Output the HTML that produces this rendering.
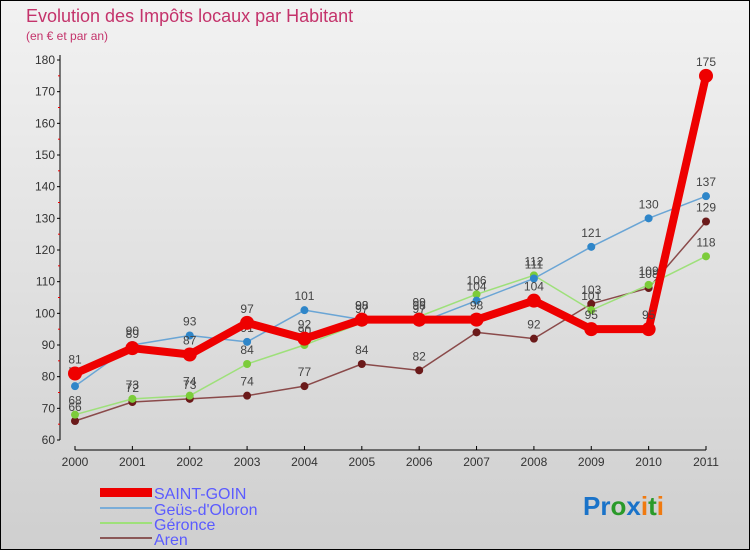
<!DOCTYPE html>
<html><head><meta charset="utf-8"><style>
html,body{margin:0;padding:0}
body{width:750px;height:550px;overflow:hidden;font-family:"Liberation Sans",sans-serif}
</style></head><body>
<svg id="chart" width="750" height="550" xmlns="http://www.w3.org/2000/svg">
<defs><linearGradient id="bg" x1="0" y1="0" x2="0" y2="1"><stop offset="0" stop-color="#f2f2f2"/><stop offset="1" stop-color="#cfcfcf"/></linearGradient></defs>
<rect x="0.5" y="0.5" width="749" height="549" fill="url(#bg)" stroke="#000"/>
<text x="26" y="22" font-size="18" fill="#c4336b">Evolution des Impôts locaux par Habitant</text>
<text x="26" y="40" font-size="12" fill="#c4336b">(en € et par an)</text>
<line x1="60" y1="55" x2="60" y2="440" stroke="#000"/>
<line x1="75" y1="450" x2="706" y2="450" stroke="#000"/>
<g id="axes"></g><g id="series"></g>
<g font-size="16" fill="#5b5bff">
<rect x="100" y="488" width="52" height="9" fill="#e00"/>
<text x="154" y="499">SAINT-GOIN</text>
<line x1="100" y1="508" x2="152" y2="508" stroke="#7aadd8" stroke-width="2"/>
<text x="154" y="515">Geüs-d'Oloron</text>
<line x1="100" y1="523" x2="152" y2="523" stroke="#9ee07a" stroke-width="2"/>
<text x="154" y="530">Géronce</text>
<line x1="100" y1="538" x2="152" y2="538" stroke="#8a5757" stroke-width="2"/>
<text x="154" y="545">Aren</text>
</g>
<text x="583" y="515" font-size="26" font-weight="bold"><tspan fill="#1a73c9">Pr</tspan><tspan fill="#2a9a2a">o</tspan><tspan fill="#1a73c9">x</tspan><tspan fill="#f07a10">i</tspan><tspan fill="#2a9a2a">t</tspan><tspan fill="#f07a10">i</tspan></text>
</svg>
<script>
const years=["2000","2001","2002","2003","2004","2005","2006","2007","2008","2009","2010","2011"];
const yTicks=[60,70,80,90,100,110,120,130,140,150,160,170,180];
const saintGoin=[81,89,87,97,92,98,98,98,104,95,95,175];
const geus=[77,90,93,91,101,98,97,104,111,121,130,137];
const geronce=[68,73,74,84,90,97,99,106,112,101,109,118];
const aren=[66,72,73,74,77,84,82,94,92,103,108,129];
const NS="http://www.w3.org/2000/svg";
const xs=i=>75+i*(706-75)/11;
const ys=v=>440-(v-60)*(380/120);
function mk(t,a,p){const e=document.createElementNS(NS,t);for(const k in a)e.setAttribute(k,a[k]);p.appendChild(e);return e;}
const ax=document.getElementById('axes');
yTicks.forEach(v=>{
 const t=mk('text',{x:55,y:ys(v)+4,'text-anchor':'end','font-size':12,fill:'#333'},ax);t.textContent=v;
 
 
 mk('line',{x1:57,y1:ys(v),x2:60,y2:ys(v),stroke:'#000'},ax);
 if(v<180)mk('line',{x1:58,y1:ys(v+5),x2:60,y2:ys(v+5),stroke:'#e00'},ax);
});
years.forEach((y,i)=>{
 mk('line',{x1:xs(i),y1:446,x2:xs(i),y2:450,stroke:'#000'},ax);
 const t=mk('text',{x:xs(i),y:466,'text-anchor':'middle','font-size':12,fill:'#333'},ax);t.textContent=y;
 
 
});
const sg=document.getElementById('series');
function draw(data,name,col,mcol,w,r){
 const g=mk('g',{},sg);
 
 
 mk('polyline',{points:data.map((v,i)=>xs(i)+','+ys(v)).join(' '),fill:'none',stroke:col,'stroke-width':w,'stroke-linejoin':'round'},g);
 data.forEach((v,i)=>{
  const c=mk('circle',{cx:xs(i),cy:ys(v),r:r,fill:mcol},g);
  
  
  const t=mk('text',{x:xs(i),y:ys(v)-10,'text-anchor':'middle','font-size':12,fill:'#444'},g);t.textContent=v;
  
  
 });
}
draw(aren,'aren-series','#8a4a4a','#6b1a1a',1.5,4);
draw(geronce,'geronce-series','#9ee07a','#7ccc3a',1.5,4);
draw(geus,'geus-series','#6aa5d5','#2f86c9',1.5,4);
draw(saintGoin,'saint-goin-series','#ee0000','#ee0000',8,7);
</script>
</body></html>
